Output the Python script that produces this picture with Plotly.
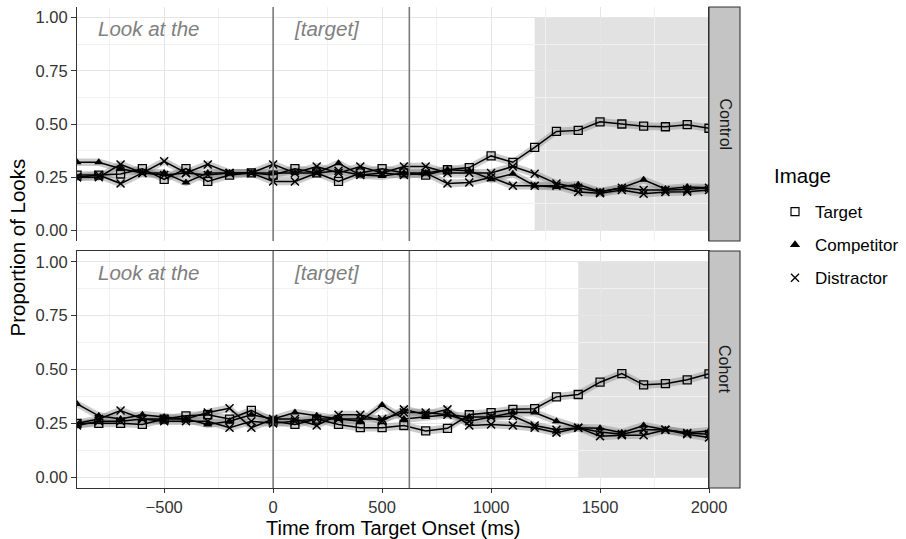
import plotly.graph_objects as go

time_ms = list(range(-900, 2001, 100))

control_target = [0.26, 0.26, 0.265, 0.29, 0.24, 0.29, 0.23, 0.26, 0.27, 0.26,
                  0.29, 0.27, 0.23, 0.27, 0.29, 0.27, 0.26, 0.285, 0.295, 0.35,
                  0.32, 0.39, 0.465, 0.47, 0.51, 0.50, 0.49, 0.487, 0.497, 0.48]
control_competitor = [0.32, 0.32, 0.29, 0.27, 0.27, 0.225, 0.27, 0.27, 0.27, 0.27,
                      0.27, 0.27, 0.315, 0.26, 0.255, 0.27, 0.27, 0.285, 0.28, 0.24,
                      0.266, 0.21, 0.204, 0.215, 0.182, 0.20, 0.238, 0.195, 0.204, 0.20]
control_distractor_a = [0.25, 0.26, 0.22, 0.27, 0.26, 0.27, 0.26, 0.27, 0.27, 0.23,
                        0.23, 0.27, 0.28, 0.26, 0.27, 0.26, 0.27, 0.22, 0.225, 0.25,
                        0.21, 0.21, 0.21, 0.18, 0.175, 0.19, 0.172, 0.18, 0.182, 0.19]
control_distractor_b = [0.25, 0.25, 0.31, 0.27, 0.325, 0.27, 0.31, 0.27, 0.27, 0.31,
                        0.27, 0.30, 0.27, 0.30, 0.27, 0.30, 0.30, 0.27, 0.27, 0.27,
                        0.30, 0.266, 0.22, 0.20, 0.18, 0.20, 0.19, 0.19, 0.192, 0.20]

cohort_target = [0.25, 0.25, 0.25, 0.245, 0.27, 0.285, 0.29, 0.27, 0.31, 0.26,
                 0.245, 0.27, 0.245, 0.23, 0.23, 0.24, 0.215, 0.227, 0.29, 0.30,
                 0.315, 0.318, 0.373, 0.384, 0.441, 0.481, 0.429, 0.434, 0.452, 0.48]
cohort_competitor = [0.34, 0.285, 0.27, 0.29, 0.28, 0.27, 0.245, 0.26, 0.29, 0.27,
                     0.30, 0.285, 0.27, 0.26, 0.335, 0.27, 0.28, 0.29, 0.28, 0.28,
                     0.30, 0.30, 0.26, 0.23, 0.227, 0.207, 0.24, 0.22, 0.207, 0.215]
cohort_distractor_a = [0.25, 0.27, 0.31, 0.27, 0.27, 0.27, 0.30, 0.32, 0.23, 0.27,
                       0.27, 0.24, 0.29, 0.29, 0.26, 0.315, 0.29, 0.315, 0.24, 0.245,
                       0.24, 0.23, 0.207, 0.23, 0.19, 0.195, 0.195, 0.22, 0.20, 0.184]
cohort_distractor_b = [0.24, 0.26, 0.26, 0.27, 0.26, 0.26, 0.26, 0.23, 0.26, 0.25,
                       0.26, 0.27, 0.27, 0.27, 0.27, 0.30, 0.30, 0.29, 0.26, 0.28,
                       0.284, 0.24, 0.22, 0.23, 0.21, 0.20, 0.22, 0.22, 0.205, 0.20]

image_labels = ["Target", "Competitor", "Distractor"]
panel_labels = ["Control", "Cohort"]
shade_start = [1200, 1400]
phase_text = ["Look at the", "[target]"]
phase_text_x = [-815, 85]
phase_lines = [0, 625]
ribbon_half = 0.018

FONT = "Liberation Sans, Arial, sans-serif"
W, H = 906, 539
L, R, T, B = 77, 740, 7, 488
pw, ph = R - L, B - T
x_end = (709 - L) / pw
top_dom = [1 - (241 - T) / ph, 1.0]
bot_dom = [0.0, 1 - (251 - T) / ph]

symbols = {"Target": "square-open", "Competitor": "triangle-up", "Distractor": "x-thin"}

fig = go.Figure()

panels = [
    ("y", [("Target", control_target), ("Competitor", control_competitor),
           ("Distractor", control_distractor_a), ("Distractor", control_distractor_b)]),
    ("y2", [("Target", cohort_target), ("Competitor", cohort_competitor),
            ("Distractor", cohort_distractor_a), ("Distractor", cohort_distractor_b)]),
]

for yref, series in panels:
    for name, vals in series:
        up = [v + ribbon_half for v in vals]
        lo = [v - ribbon_half for v in vals]
        fig.add_trace(go.Scatter(
            x=time_ms + time_ms[::-1], y=up + lo[::-1], yaxis=yref,
            fill="toself", fillcolor="rgba(140,140,140,0.45)",
            line=dict(width=0), mode="lines", hoverinfo="skip", showlegend=False))
    for name, vals in series:
        sym = symbols[name]
        if sym == "square-open":
            mk = dict(symbol=sym, size=8, color="black", line=dict(color="black", width=1.3))
        elif sym == "x-thin":
            mk = dict(symbol=sym, size=8, color="black", line=dict(color="black", width=1.5))
        else:
            mk = dict(symbol=sym, size=8, color="black", line=dict(width=0))
        fig.add_trace(go.Scatter(
            x=time_ms, y=vals, yaxis=yref, mode="lines+markers", name=name,
            line=dict(color="black", width=1.5), marker=mk, showlegend=False))

for name in image_labels:
    sym = symbols[name]
    if sym == "square-open":
        mk = dict(symbol=sym, size=8, color="black", line=dict(color="black", width=1.2))
    elif sym == "x-thin":
        mk = dict(symbol=sym, size=8, color="black", line=dict(color="black", width=1.3))
    else:
        mk = dict(symbol=sym, size=9, color="black", line=dict(width=0))
    fig.add_trace(go.Scatter(x=[None], y=[None], mode="markers", name=name,
                             marker=mk, legendgroup=name, showlegend=True))

shapes = []
annotations = []
for i, (yref, _) in enumerate(panels):
    shapes.append(dict(type="rect", xref="x", yref=yref, x0=shade_start[i], x1=2000,
                       y0=0, y1=1, fillcolor="#e2e2e2", line=dict(width=0), layer="below"))
    for xv in phase_lines:
        shapes.append(dict(type="line", xref="x", yref=yref + " domain", x0=xv, x1=xv,
                           y0=0, y1=1, line=dict(color="#7a7a7a", width=1.6), layer="above"))
    shapes.append(dict(type="line", xref="x", yref=yref + " domain", x0=2000, x1=2000,
                       y0=0, y1=1, line=dict(color="black", width=1.6), layer="above"))
    dom = top_dom if i == 0 else bot_dom
    shapes.append(dict(type="rect", xref="paper", yref="paper", x0=x_end, x1=1.0,
                       y0=dom[0], y1=dom[1], fillcolor="#c4c4c4",
                       line=dict(color="#333333", width=1.1), layer="above"))
    annotations.append(dict(xref="paper", yref="paper", x=(x_end + 1) / 2,
                            y=(dom[0] + dom[1]) / 2, text=panel_labels[i], textangle=90,
                            xanchor="center", yanchor="middle",
                            showarrow=False, font=dict(size=16, color="#1a1a1a", family=FONT)))
    for t, xv in zip(phase_text, phase_text_x):
        annotations.append(dict(xref="x", yref=yref, x=xv, y=0.95, text="<i>" + t + "</i>",
                                xanchor="left", yanchor="middle", showarrow=False,
                                font=dict(size=20.5, color="#808080", family=FONT)))

annotations.append(dict(xref="paper", yref="paper", x=0.5 * x_end, y=0, yshift=-27,
                        text="Time from Target Onset (ms)", showarrow=False,
                        xanchor="center", yanchor="top",
                        font=dict(size=20, color="black", family=FONT)))
annotations.append(dict(xref="paper", yref="paper", x=0, xshift=-60, y=0.5,
                        text="Proportion of Looks", showarrow=False, textangle=-90,
                        xanchor="center", yanchor="middle",
                        font=dict(size=20.5, color="black", family=FONT)))
annotations.append(dict(xref="paper", yref="paper", x=(772 - L) / pw, y=1 - (176 - T) / ph,
                        text="Image", showarrow=False, xanchor="left", yanchor="middle",
                        font=dict(size=20.5, color="black", family=FONT)))

tickfont = dict(size=16.5, color="#333333", family=FONT)
xaxis_common = dict(range=[-900, 2000], tick0=0, dtick=500, showgrid=True,
                    gridcolor="#e6e6e6", gridwidth=1.2, zeroline=False,
                    showline=True, linecolor="#333333", linewidth=1.1, mirror=True,
                    ticks="outside", ticklen=4, tickcolor="#333333", tickwidth=1,
                    minor=dict(dtick=250, tick0=0, showgrid=True, gridcolor="#f1f1f1",
                               gridwidth=1, ticks=""),
                    tickfont=tickfont)
yaxis_common = dict(range=[-0.05, 1.05], tickvals=[0, 0.25, 0.5, 0.75, 1.0],
                    ticktext=["0.00", "0.25", "0.50", "0.75", "1.00"], showgrid=True,
                    gridcolor="#e6e6e6", gridwidth=1.2, zeroline=False,
                    showline=True, linecolor="#333333", linewidth=1.1, mirror=True,
                    ticks="outside", ticklen=5, tickcolor="#333333", tickwidth=1,
                    minor=dict(tickvals=[0.125, 0.375, 0.625, 0.875], showgrid=True,
                               gridcolor="#f1f1f1", gridwidth=1, ticks=""),
                    tickfont=tickfont)

fig.update_layout(
    width=W, height=H,
    margin=dict(l=L, r=W - R, t=T, b=H - B, autoexpand=False),
    paper_bgcolor="white", plot_bgcolor="white",
    font=dict(family=FONT, color="black"),
    xaxis=dict(domain=[0, x_end], anchor="y2", **xaxis_common),
    yaxis=dict(domain=top_dom, anchor="x", **yaxis_common),
    yaxis2=dict(domain=bot_dom, anchor="x", **yaxis_common),
    shapes=shapes, annotations=annotations,
    legend=dict(x=(775 - L) / pw, y=1 - (194 - T) / ph, xanchor="left", yanchor="top",
                font=dict(size=17, color="black", family=FONT), tracegroupgap=8,
                traceorder="grouped", itemwidth=30, bgcolor="rgba(0,0,0,0)"),
    showlegend=True,
)

fig.write_html("out.html", config={"displayModeBar": False},
               post_script="document.body.style.margin='0px';")
